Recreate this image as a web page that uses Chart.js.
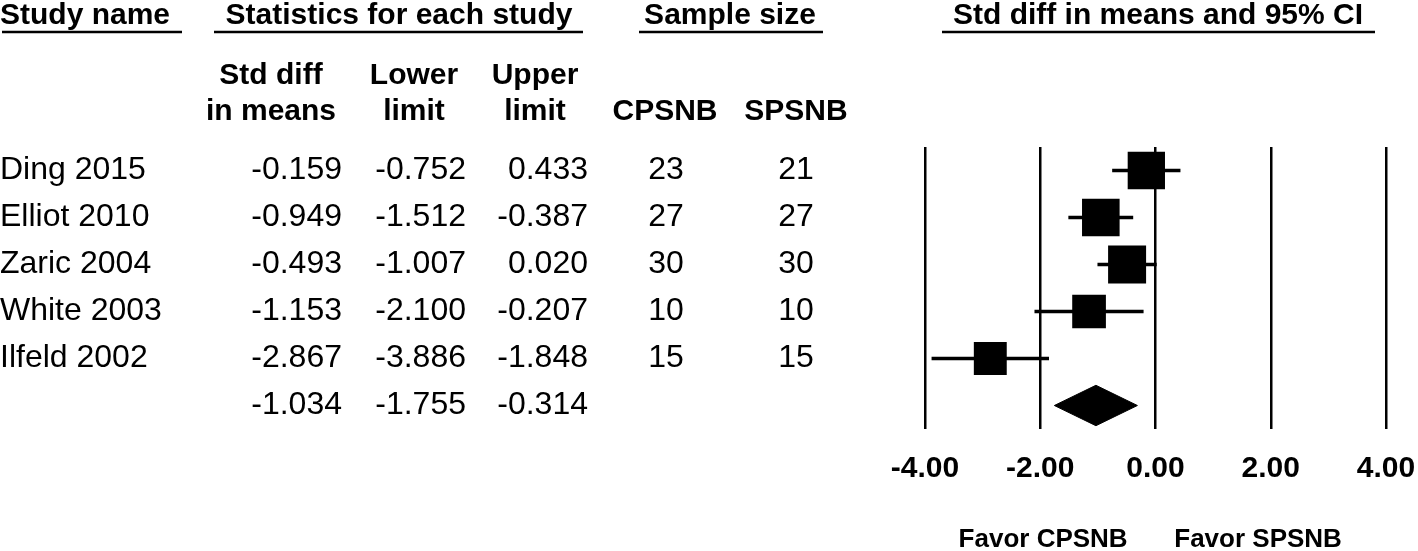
<!DOCTYPE html>
<html>
<head>
<meta charset="utf-8">
<script src="https://cdn.jsdelivr.net/npm/chart.js@4.4.1/dist/chart.umd.min.js"></script>
<style>
  html, body { margin: 0; padding: 0; background: #fff; }
  canvas { display: block; }
</style>
</head>
<body>
<canvas id="forestChart" width="1418" height="551"></canvas>
<script>
const studies = ['Ding 2015', 'Elliot 2010', 'Zaric 2004', 'White 2003', 'Ilfeld 2002'];
const effect = [-0.159, -0.949, -0.493, -1.153, -2.867];
const lower = [-0.752, -1.512, -1.007, -2.100, -3.886];
const upper = [0.433, -0.387, 0.020, -0.207, -1.848];
const nCPSNB = [23, 27, 30, 10, 15];
const nSPSNB = [21, 27, 30, 10, 15];
const pooled = [-1.034, -1.755, -0.314]; // estimate, lower, upper
const xTicks = [-4, -2, 0, 2, 4];

const FONT = '"Liberation Sans", Arial, Helvetica, sans-serif';

// random-effects weights from the CIs (DerSimonian-Laird), used for the box sizes
const variances = lower.map((lo, i) => Math.pow((upper[i] - lo) / (2 * 1.96), 2));
const wFixed = variances.map(v => 1 / v);
const sumW = wFixed.reduce((a, b) => a + b, 0);
const meanFixed = wFixed.reduce((a, w, i) => a + w * effect[i], 0) / sumW;
const Q = wFixed.reduce((a, w, i) => a + w * Math.pow(effect[i] - meanFixed, 2), 0);
const C = sumW - wFixed.reduce((a, w) => a + w * w, 0) / sumW;
const tau2 = Math.max(0, (Q - (studies.length - 1)) / C);
const wRandom = variances.map(v => 1 / (v + tau2));
const wMax = Math.max(...wRandom);
const boxRadius = wRandom.map(w => 38 * Math.sqrt(w / wMax) / Math.SQRT2);

const ciData = [];
studies.forEach((s, i) => {
  ciData.push({ x: lower[i], y: i }, { x: upper[i], y: i }, { x: null, y: null });
});

const summaryRow = studies.length;
const diamondData = [
  { x: pooled[1], y: summaryRow },
  { x: pooled[0], y: summaryRow - 0.43 },
  { x: pooled[2], y: summaryRow },
  { x: pooled[0], y: summaryRow + 0.43 },
  { x: pooled[1], y: summaryRow }
];

// table on the left side, header texts and favour labels
const tablePlugin = {
  id: 'tableText',
  afterDraw(chart) {
    const ctx = chart.ctx;
    const y = chart.scales.y;
    const x = chart.scales.x;
    ctx.save();
    ctx.fillStyle = '#000';
    ctx.strokeStyle = '#000';
    ctx.lineWidth = 2.5;
    ctx.textBaseline = 'alphabetic';

    // top headers with underlines
    ctx.font = 'bold 30px ' + FONT;
    const heads = [
      ['Study name', 0, 'left', 2, 182],
      ['Statistics for each study', 399, 'center', 214, 583],
      ['Sample size', 730, 'center', 639, 823],
      ['Std diff in means and 95% CI', 1158, 'center', 942, 1375]
    ];
    heads.forEach(h => {
      ctx.textAlign = h[2];
      ctx.fillText(h[0], h[1], 24);
      ctx.beginPath();
      ctx.moveTo(h[3], 32);
      ctx.lineTo(h[4], 32);
      ctx.stroke();
    });

    // column headers
    const cols = [
      [['Std diff', 'in means'], 271],
      [['Lower', 'limit'], 414],
      [['Upper', 'limit'], 535],
      [['CPSNB'], 665],
      [['SPSNB'], 796]
    ];
    ctx.textAlign = 'center';
    cols.forEach(c => {
      if (c[0].length === 2) {
        ctx.fillText(c[0][0], c[1], 84);
        ctx.fillText(c[0][1], c[1], 120);
      } else {
        ctx.fillText(c[0][0], c[1], 120);
      }
    });

    // study rows
    ctx.font = '32px ' + FONT;
    studies.forEach((s, i) => {
      const base = y.getPixelForValue(i) + 8.5;
      ctx.textAlign = 'left';
      ctx.fillText(s, 0, base);
      ctx.textAlign = 'right';
      ctx.fillText(effect[i].toFixed(3), 342, base);
      ctx.fillText(lower[i].toFixed(3), 466, base);
      ctx.fillText(upper[i].toFixed(3), 588, base);
      ctx.textAlign = 'center';
      ctx.fillText(String(nCPSNB[i]), 666, base);
      ctx.fillText(String(nSPSNB[i]), 796, base);
    });
    const sBase = y.getPixelForValue(summaryRow) + 8.5;
    ctx.textAlign = 'right';
    ctx.fillText(pooled[0].toFixed(3), 342, sBase);
    ctx.fillText(pooled[1].toFixed(3), 466, sBase);
    ctx.fillText(pooled[2].toFixed(3), 588, sBase);

    // favour labels under the axis
    ctx.font = 'bold 26px ' + FONT;
    ctx.textAlign = 'center';
    ctx.fillText('Favor CPSNB', x.getPixelForValue(-1.95), 547);
    ctx.fillText('Favor SPSNB', x.getPixelForValue(1.78), 547);
    ctx.restore();
  }
};

const config = {
  type: 'scatter',
  data: {
    datasets: [
      {
        label: 'Std diff in means',
        data: effect.map((e, i) => ({ x: e, y: i })),
        pointStyle: 'rect',
        pointRadius: boxRadius,
        pointBackgroundColor: '#000',
        pointBorderWidth: 0,
        showLine: false
      },
      {
        label: '95% CI',
        type: 'line',
        data: ciData,
        borderColor: '#000',
        borderWidth: 3.5,
        pointRadius: 0,
        spanGaps: false,
        fill: false
      },
      {
        label: 'Overall',
        type: 'line',
        data: diamondData,
        borderColor: '#000',
        backgroundColor: '#000',
        borderWidth: 1,
        pointRadius: 0,
        tension: 0,
        fill: 'shape'
      }
    ]
  },
  options: {
    responsive: false,
    animation: false,
    events: [],
    layout: { padding: { left: 925, right: 32, top: 147, bottom: 62 } },
    plugins: {
      legend: { display: false },
      tooltip: { enabled: false },
      title: { display: false }
    },
    scales: {
      x: {
        type: 'linear',
        min: -4,
        max: 4,
        afterBuildTicks: scale => { scale.ticks = xTicks.map(v => ({ value: v })); },
        afterFit: scale => {
          scale.height = 60;
          scale.paddingLeft = 0;
          scale.paddingRight = 0;
        },
        grid: { color: '#000', lineWidth: 2.5, drawTicks: false },
        border: { display: false },
        ticks: {
          color: '#000',
          padding: 22,
          maxRotation: 0,
          font: { family: FONT, size: 30, weight: 'bold' },
          callback: v => Number(v).toFixed(2)
        }
      },
      y: {
        type: 'linear',
        min: -0.5,
        max: 5.5,
        reverse: true,
        display: false
      }
    }
  },
  plugins: [tablePlugin]
};

const chart = new Chart(document.getElementById('forestChart'), config);
</script>
</body>
</html>
